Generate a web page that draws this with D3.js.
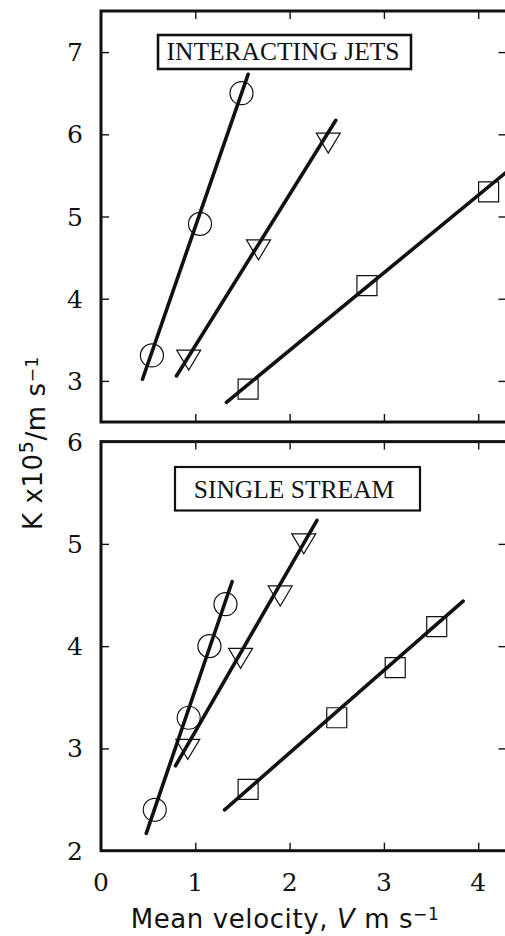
<!DOCTYPE html>
<html>
<head>
<meta charset="utf-8">
<script src="https://cdn.jsdelivr.net/npm/d3@7"></script>
<style>
  html, body { margin: 0; padding: 0; background: #fff; }
  svg { display: block; }
</style>
</head>
<body>
<svg id="chart" width="505" height="936"></svg>
<script>
// Mean velocity ticks (shared x axis)
const velocityTicks = [0, 1, 2, 3, 4];

// Interacting jets: measured points
const jetsCircleV = [0.54, 1.05, 1.49];
const jetsCircleK = [3.31, 4.91, 6.50];
const jetsTriV = [0.93, 1.67, 2.41];
const jetsTriK = [3.29, 4.63, 5.93];
const jetsSquareV = [1.56, 2.82, 4.11];
const jetsSquareK = [2.90, 4.16, 5.30];
// Interacting jets: fitted line end points
const jetsCircleFitV = [0.44, 1.56];
const jetsCircleFitK = [3.02, 6.73];
const jetsTriFitV = [0.80, 2.49];
const jetsTriFitK = [3.06, 6.17];
const jetsSquareFitV = [1.33, 4.32];
const jetsSquareFitK = [2.74, 5.56];
const jetsTicks = [3, 4, 5, 6, 7];

// Single stream: measured points
const singleCircleV = [0.57, 0.93, 1.15, 1.32];
const singleCircleK = [2.40, 3.30, 4.00, 4.41];
const singleTriV = [0.92, 1.48, 1.90, 2.15];
const singleTriK = [3.02, 3.91, 4.52, 5.03];
const singleSquareV = [1.56, 2.50, 3.12, 3.56];
const singleSquareK = [2.60, 3.30, 3.79, 4.19];
// Single stream: fitted line end points
const singleCircleFitV = [0.48, 1.39];
const singleCircleFitK = [2.17, 4.63];
const singleTriFitV = [0.79, 2.29];
const singleTriFitK = [2.83, 5.23];
const singleSquareFitV = [1.31, 3.84];
const singleSquareFitK = [2.40, 4.44];
const singleTicks = [2, 3, 4, 5, 6];

const svg = d3.select("#chart");
const left = 101, right = 506.5;
const x = d3.scaleLinear().domain([0, 4.3]).range([left, right]);

const panels = [
  {
    title: "INTERACTING JETS",
    y: d3.scaleLinear().domain([2.5, 7.5]).range([422, 11]),
    ticks: jetsTicks,
    box: { x0: 158, x1: 411, y0: 35, y1: 69, sw: 2.6, tx: 283, ty: 60 },
    series: [
      { shape: "circle", v: jetsCircleV, k: jetsCircleK, fv: jetsCircleFitV, fk: jetsCircleFitK },
      { shape: "triangle", v: jetsTriV, k: jetsTriK, fv: jetsTriFitV, fk: jetsTriFitK },
      { shape: "square", v: jetsSquareV, k: jetsSquareK, fv: jetsSquareFitV, fk: jetsSquareFitK }
    ]
  },
  {
    title: "SINGLE STREAM",
    y: d3.scaleLinear().domain([2, 6]).range([850.7, 441.6]),
    ticks: singleTicks,
    box: { x0: 175, x1: 420, y0: 467, y1: 510.5, sw: 2.2, tx: 294, ty: 498 },
    series: [
      { shape: "circle", v: singleCircleV, k: singleCircleK, fv: singleCircleFitV, fk: singleCircleFitK },
      { shape: "triangle", v: singleTriV, k: singleTriK, fv: singleTriFitV, fk: singleTriFitK },
      { shape: "square", v: singleSquareV, k: singleSquareK, fv: singleSquareFitV, fk: singleSquareFitK }
    ]
  }
];

const tickFont = "'DejaVu Serif', serif";
const tickSize = "25px";

function markerPath(shape) {
  if (shape === "circle") return null;
  if (shape === "square") return "M-10,-10H10V10H-10Z";
  // downward-pointing triangle, centred on its centroid
  return "M-12,-7H12L0,13Z";
}

panels.forEach(p => {
  const y = p.y;
  const [yBottom, yTop] = y.range();
  const g = svg.append("g");

  // inward ticks on all four sides
  const tickLen = 8;
  g.append("g").attr("transform", `translate(0,${yBottom})`)
    .call(d3.axisBottom(x).tickValues([1, 2, 3, 4]).tickSize(-tickLen).tickFormat(""));
  g.append("g").attr("transform", `translate(0,${yTop})`)
    .call(d3.axisTop(x).tickValues([1, 2, 3, 4]).tickSize(-tickLen).tickFormat(""));
  g.append("g").attr("transform", `translate(${left},0)`)
    .call(d3.axisLeft(y).tickValues(p.ticks).tickSize(-tickLen).tickFormat(""));
  g.append("g").attr("transform", `translate(${right},0)`)
    .call(d3.axisRight(y).tickValues(p.ticks).tickSize(-tickLen).tickFormat(""));
  g.selectAll(".domain").remove();
  g.selectAll(".tick line").attr("stroke", "#111").attr("stroke-width", 1.4);

  // left tick labels
  g.selectAll("text.ylab").data(p.ticks).join("text")
    .attr("class", "ylab")
    .attr("x", 75).attr("y", d => y(d)).attr("dy", "0.36em")
    .attr("text-anchor", "middle")
    .style("font-family", tickFont).style("font-size", tickSize)
    .attr("fill", "#111")
    .text(d => d);

  // fitted lines
  p.series.forEach(s => {
    const pts = d3.zip(s.fv, s.fk);
    g.append("path")
      .attr("d", d3.line().x(d => x(d[0])).y(d => y(d[1]))(pts))
      .attr("fill", "none").attr("stroke", "#111").attr("stroke-width", 3.6)
      .attr("stroke-linecap", "round");
  });

  // markers (open)
  p.series.forEach(s => {
    const pts = d3.zip(s.v, s.k);
    if (s.shape === "circle") {
      g.selectAll(null).data(pts).join("circle")
        .attr("cx", d => x(d[0])).attr("cy", d => y(d[1])).attr("r", 11.5)
        .attr("fill", "none").attr("stroke", "#111").attr("stroke-width", 1.2);
    } else {
      g.selectAll(null).data(pts).join("path")
        .attr("d", markerPath(s.shape))
        .attr("transform", d => `translate(${x(d[0])},${y(d[1])})`)
        .attr("fill", "none").attr("stroke", "#111").attr("stroke-width", 1.2);
    }
  });

  // panel frame
  g.append("rect")
    .attr("x", left).attr("y", yTop)
    .attr("width", right - left).attr("height", yBottom - yTop)
    .attr("fill", "none").attr("stroke", "#111").attr("stroke-width", 3);

  // title box
  const b = p.box;
  g.append("rect")
    .attr("x", b.x0).attr("y", b.y0)
    .attr("width", b.x1 - b.x0).attr("height", b.y1 - b.y0)
    .attr("fill", "#fff").attr("stroke", "#111").attr("stroke-width", b.sw);
  g.append("text")
    .attr("x", b.tx).attr("y", b.ty)
    .attr("text-anchor", "middle")
    .style("font-family", "'Liberation Serif', 'Times New Roman', serif")
    .style("font-size", "25.5px")
    .attr("fill", "#111")
    .text(p.title);
});

// x tick labels under the lower panel
svg.append("g").selectAll("text").data(velocityTicks).join("text")
  .attr("x", d => x(d)).attr("y", 891)
  .attr("text-anchor", "middle")
  .style("font-family", tickFont).style("font-size", tickSize)
  .attr("fill", "#111")
  .text(d => d);

// x axis title
const xt = svg.append("text")
  .attr("x", 285).attr("y", 928)
  .attr("text-anchor", "middle")
  .style("font-family", "'DejaVu Sans', sans-serif")
  .style("font-size", "26px")
  .style("letter-spacing", "0.6px")
  .attr("fill", "#111");
xt.append("tspan").text("Mean velocity, ");
xt.append("tspan").style("font-style", "italic").text("V");
xt.append("tspan").text(" m s");
xt.append("tspan").attr("dy", "-0.45em").style("font-size", "17px").text("\u22121");

// y axis title
const yt = svg.append("text")
  .attr("transform", "translate(42,443) rotate(-90)")
  .attr("text-anchor", "middle")
  .style("font-family", "'DejaVu Sans', sans-serif")
  .style("font-size", "26px")
  .style("letter-spacing", "0.6px")
  .attr("fill", "#111");
yt.append("tspan").text("K x10");
yt.append("tspan").attr("dy", "-0.45em").style("font-size", "19px").text("5");
yt.append("tspan").attr("dy", "0.45em").text("/m s");
yt.append("tspan").attr("dy", "-0.45em").style("font-size", "17px").text("\u22121");
</script>
</body>
</html>
